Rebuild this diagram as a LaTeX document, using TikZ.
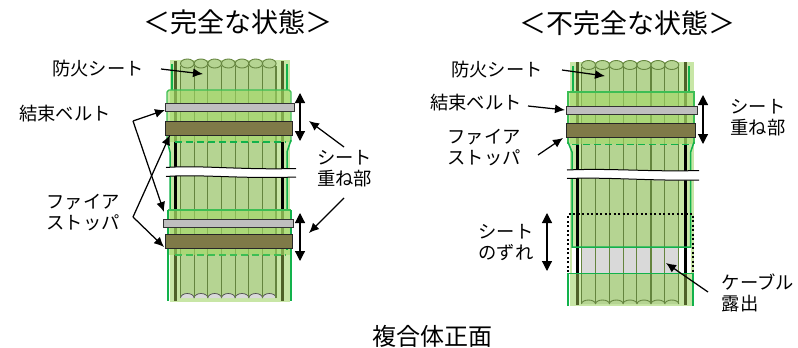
\documentclass[tikz,border=0pt]{standalone}
\usepackage{fontspec}
\setmainfont{Noto Sans CJK JP}
\usetikzlibrary{arrows.meta,positioning,calc}
\definecolor{sheetgreen}{HTML}{C8E6A6}
\definecolor{cablegreen}{HTML}{B5D492}
\definecolor{cableline}{HTML}{64843E}
\definecolor{bardark}{HTML}{4F6228}
\definecolor{lapgreen}{HTML}{A3DA66}
\definecolor{edgegreen}{HTML}{12B24C}
\definecolor{beltgray}{HTML}{BFBFBF}
\definecolor{stopbrown}{HTML}{7F7A48}
\definecolor{baregray}{HTML}{D9D9D9}
\tikzset{
  label18/.style={font=\fontsize{18.3}{21}\selectfont, align=center, inner sep=0pt},
  title24/.style={font=\fontsize{27}{32}\selectfont, inner sep=0pt},
  leader/.style={-{Latex[length=10pt,width=9pt]}, line width=1.25pt},
  span/.style={{Triangle[length=10pt,width=10pt]}-{Triangle[length=10pt,width=10pt]}, line width=1.2pt},
  belt/.style={draw=black!80, line width=1pt, fill=beltgray},
  stopper/.style={draw=black!85, line width=1pt, fill=stopbrown},
  edge/.style={draw=edgegreen, line width=1.5pt}
}
\begin{document}
\begin{tikzpicture}[x=1pt, y=-1pt]
    \useasboundingbox (0,0) rectangle (798,348);

    % Left bundle
    \fill[sheetgreen] (170,60) rectangle (290,302);
    \fill[cablegreen] (180.5,64) rectangle (276,298);
    \foreach \cx in {187.3,201,214.7,228.3,242,255.7,269.3} {
        \fill[baregray] (\cx-6.8,298) arc[start angle=180, end angle=360, x radius=6.8, y radius=4.5];
        \draw[black!70, line width=0.7pt] (\cx-6.8,298) arc[start angle=180, end angle=360, x radius=6.8, y radius=4.5];
    }
    \foreach \lx in {180.5,194.2,207.8,221.5,235.2,248.8,262.5,276} {
        \draw[cableline, line width=1.1pt] (\lx,66) -- (\lx,298);
    }
    \foreach \cx in {187.3,201,214.7,228.3,242,255.7,269.3} {
        \draw[cableline, fill=cablegreen, line width=0.9pt] (\cx,63.5) ellipse[x radius=6.8, y radius=4.5];
    }
    \draw[bardark, line width=3pt] (175,61) -- (175,142);
    \draw[bardark, line width=3pt] (282,61) -- (282,142);
    \draw[black, line width=3pt] (175,142) -- (175,210);
    \draw[black, line width=3pt] (282,142) -- (282,210);
    \draw[bardark, line width=3pt] (175,210) -- (175,301);
    \draw[bardark, line width=3pt] (282,210) -- (282,301);
    \draw[edge] (172,64) -- (172,90);
    \draw[edge] (287,64) -- (287,90);
    \fill[lapgreen, opacity=0.6] (167,90) rectangle (291,142);
    \draw[edgegreen!70!lapgreen, line width=1.4pt] (167,142) -- (167,92) -- (169,90) -- (289,90) -- (291,92) -- (291,142);
    \draw[edge] (167,140) -- (170,152) -- (170,210);
    \draw[edge] (291,140) -- (287,152) -- (287,210);
    \draw[edge, dash pattern=on 7pt off 4pt] (175,142) -- (286,142);
    \fill[lapgreen, opacity=0.6] (168,210) rectangle (291,255);
    \draw[edgegreen!70!lapgreen, line width=1.4pt] (168,210) -- (291,210);
    \draw[edgegreen!70!lapgreen, dash pattern=on 7pt off 4pt, line width=1.2pt] (175,255) -- (286,255);
    \draw[edge] (168,210) -- (168,301);
    \draw[edge] (291,210) -- (291,301);
    \draw[edge] (287,235) -- (287,250);
    \draw[belt] (165,103.5) rectangle (294,111.5);
    \node[stopper, inner sep=0pt, minimum width=127pt, minimum height=14pt] (stopA) at (228.5,128) {};
    \draw[belt] (163.5,219) rectangle (293,227);
    \node[stopper, inner sep=0pt, minimum width=127pt, minimum height=14.5pt] (stopB) at (228.5,241.5) {};
    % break
    \fill[white] (164,167.5) .. controls (200,165) and (240,170) .. (296,168.5)
        -- (296,177) .. controls (240,179) and (200,174) .. (164,176.5) -- cycle;
    \draw[black, line width=1pt] (166,167.5) .. controls (200,165) and (240,170) .. (296,168.5);
    \draw[black, line width=1pt] (166,176.5) .. controls (200,174) and (240,179) .. (296,177);

    % Right bundle
    \fill[sheetgreen] (570,62) rectangle (694,306);
    \fill[cablegreen] (581.5,66) rectangle (678.8,304);
    \fill[white] (572,247) rectangle (690.7,273);
    \fill[baregray] (581.5,247) rectangle (678.8,273);
    \foreach \lx in {581.5,595.5,609.5,623.2,636.9,651,664.9,678.8} {
        \draw[cableline, line width=1.1pt] (\lx,67) -- (\lx,304);
    }
    \foreach \cx in {588.5,602.5,616.3,630,644,658,671.8} {
        \fill[cablegreen] (\cx-7,304) arc[start angle=180, end angle=360, x radius=7, y radius=4];
        \draw[cableline, line width=0.9pt] (\cx-7,304) arc[start angle=180, end angle=360, x radius=7, y radius=4];
        \draw[cableline, fill=cablegreen, line width=0.9pt] (\cx,65) ellipse[x radius=7, y radius=4.5];
    }
    \draw[bardark, line width=3pt] (577,62) -- (577,144);
    \draw[bardark, line width=3pt] (685,62) -- (685,144);
    \draw[black, line width=3pt] (577,144) -- (577,273);
    \draw[black, line width=3pt] (685,144) -- (685,273);
    \draw[bardark, line width=3pt] (577,273) -- (577,305);
    \draw[bardark, line width=3pt] (685,273) -- (685,305);
    \draw[edge] (573,66) -- (573,92);
    \draw[edge] (689,66) -- (689,92);
    \fill[lapgreen, opacity=0.6] (568,92) rectangle (694,144);
    \draw[edgegreen!70!lapgreen, line width=1.4pt] (568,144) -- (568,92) -- (694,92) -- (694,144);
    \draw[edge] (568,142) -- (572,152) -- (572,247) -- (690.7,247) -- (690.7,152) -- (694,142);
    \draw[edge, dash pattern=on 7pt off 4pt] (572,144.5) -- (690,144.5);
    \draw[black, line width=2pt, dash pattern=on 2pt off 2.5pt] (568,272) -- (568,214) -- (693,214) -- (693,272);
    \draw[edge] (568,306) -- (568,273.5) -- (693,273.5) -- (693,306);
    \draw[belt] (566,106) rectangle (697,114);
    \node[stopper, inner sep=0pt, minimum width=129pt, minimum height=14.5pt] (stopC) at (630.5,130.5) {};
    % break
    \fill[white] (565,170) .. controls (610,168) and (650,172) .. (699,170.5)
        -- (699,180) .. controls (650,182) and (610,177) .. (565,178.5) -- cycle;
    \draw[black, line width=1pt] (567,170) .. controls (610,168) and (650,172) .. (699,170.5);
    \draw[black, line width=1pt] (567,178.5) .. controls (610,177) and (650,181) .. (699,180);

    % Titles
    \node[title24] (titleA) at (238,22) {＜完全な状態＞};
    \node[title24] (titleB) at (627.5,23) {＜不完全な状態＞};
    \node[font=\fontsize{24}{28}\selectfont, inner sep=0pt] (titleC) at (432,336) {複合体正面};

    % Labels, left
    \node[label18] (sheetA) at (98,69) {防火シート};
    \node[label18] (bandA) at (65,114) {結束ベルト};
    \node[label18] (fireA) at (83,213) {ファイア\\ストッパ};
    \node[label18] (lapA) at (344.5,169) {シート\\重ね部};
    % Labels, right
    \node[label18] (sheetB) at (497,70) {防火シート};
    \node[label18] (bandB) at (476,103) {結束ベルト};
    \node[label18] (fireB) at (484,148) {ファイア\\ストッパ};
    \node[label18] (lapB) at (758,118) {シート\\重ね部};
    \node[label18] (slipB) at (506,243) {シート\\のずれ};
    \node[label18, align=left] (bareB) at (758,292.5) {ケーブル\\露出\hspace*{36pt}};

    % Leaders
    \coordinate (sheetAs) at (161,69);
    \coordinate (sheetAt) at (203,74);
    \coordinate (bandAe) at (133,121);
    \coordinate (bandAt) at (165,110);
    \coordinate (bandAb) at (164,212);
    \coordinate (fireAe) at (133,217);
    \coordinate (fireAt) at (170,135);
    \coordinate (fireAb) at (164,247);
    \coordinate (lapAs) at (344,147);
    \coordinate (lapAt) at (309,121);
    \coordinate (lapAu) at (344,198);
    \coordinate (lapAv) at (309,233);
    \coordinate (spanAa) at (300,93);
    \coordinate (spanAb) at (300,141);
    \coordinate (spanAc) at (300,213);
    \coordinate (spanAd) at (300,261);
    \draw[leader] (sheetAs) -- (sheetAt);
    \draw[leader] (bandAe) -- (bandAt);
    \draw[leader] (bandAe) -- (bandAb);
    \draw[leader] (fireAe) -- (fireAt);
    \draw[leader] (fireAe) -- (fireAb);
    \draw[leader] (lapAs) -- (lapAt);
    \draw[leader] (lapAu) -- (lapAv);
    \draw[span] (spanAa) -- (spanAb);
    \draw[span] (spanAc) -- (spanAd);

    \coordinate (sheetBs) at (562,70);
    \coordinate (sheetBt) at (605,76);
    \coordinate (bandBs) at (528,106);
    \coordinate (bandBt) at (565,110);
    \coordinate (fireBs) at (538,155);
    \coordinate (fireBt) at (563,138);
    \coordinate (bareBs) at (708,292);
    \coordinate (bareBt) at (666,263);
    \coordinate (spanBa) at (703,95);
    \coordinate (spanBb) at (703,144);
    \coordinate (spanBc) at (547,213);
    \coordinate (spanBd) at (547,271);
    \draw[leader] (sheetBs) -- (sheetBt);
    \draw[leader] (bandBs) -- (bandBt);
    \draw[leader] (fireBs) -- (fireBt);
    \draw[leader] (bareBs) -- (bareBt);
    \draw[span] (spanBa) -- (spanBb);
    \draw[span] (spanBc) -- (spanBd);
\end{tikzpicture}
\end{document}
